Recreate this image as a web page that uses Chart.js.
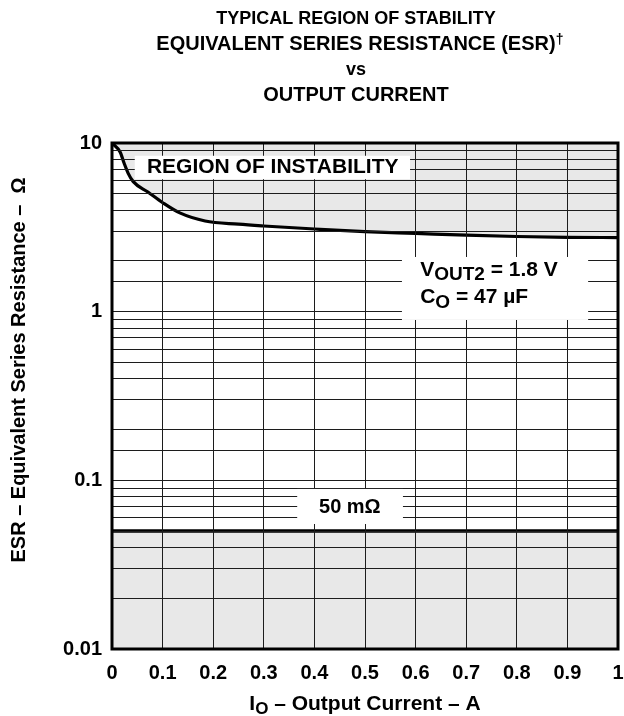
<!DOCTYPE html>
<html>
<head>
<meta charset="utf-8">
<script src="https://cdn.jsdelivr.net/npm/chart.js@4.4.1/dist/chart.umd.min.js"></script>
<style>
  html, body { margin: 0; padding: 0; background: #ffffff; }
  canvas { display: block; }
</style>
</head>
<body>
<canvas id="esr" width="624" height="716"></canvas>
<script>
// Output current (A) and the ESR boundary of the stable region (ohms)
const currentA = [0, 0.016, 0.024, 0.032, 0.042, 0.071, 0.101, 0.134, 0.184, 0.25, 0.30, 0.40, 0.50, 0.60, 0.70, 0.80, 0.90, 1.00];
const esrUpperOhm = [10, 8.84, 7.58, 6.61, 5.90, 5.12, 4.41, 3.85, 3.45, 3.30, 3.22, 3.09, 2.98, 2.91, 2.84, 2.79, 2.76, 2.75];

// Lower ESR limit, flat across the current range
const lowerLimitCurrentA = [0, 1];
const lowerLimitOhm = [0.05, 0.05];

// Labelled ticks
const xTickLabels = ['0', '0.1', '0.2', '0.3', '0.4', '0.5', '0.6', '0.7', '0.8', '0.9', '1'];
const yDecadeLabels = ['0.01', '0.1', '1', '10'];

const titleLines = [
  'TYPICAL REGION OF STABILITY',
  'EQUIVALENT SERIES RESISTANCE (ESR)',
  'vs',
  'OUTPUT CURRENT'
];

const FONT = '"Liberation Sans", Arial, Helvetica, sans-serif';
const SHADE = '#e8e8e8';
const INK = '#000000';
const GRID = '#1c1c1c';

function font(size) { return 'bold ' + size + 'px ' + FONT; }

// Draws a run of text pieces, some of them lowered as subscripts
function drawRuns(ctx, runs, x, y, align) {
  let total = 0;
  runs.forEach(r => { ctx.font = font(r.size); total += ctx.measureText(r.text).width; });
  let cx = align === 'center' ? x - total / 2 : x;
  ctx.textAlign = 'left';
  ctx.textBaseline = 'alphabetic';
  runs.forEach(r => {
    ctx.font = font(r.size);
    ctx.fillText(r.text, cx, y + (r.dy || 0));
    cx += ctx.measureText(r.text).width;
  });
}

const annotations = {
  id: 'annotations',
  afterDraw(chart) {
    const ctx = chart.ctx;
    const xs = chart.scales.x, ys = chart.scales.y;
    const area = chart.chartArea;
    const X = v => xs.getPixelForValue(v);
    const Y = v => ys.getPixelForValue(v);
    ctx.save();

    // white label boxes laid over the grid
    ctx.fillStyle = '#ffffff';
    const box = (x0, x1, y0, y1) => ctx.fillRect(X(x0), Y(y0), X(x1) - X(x0), Y(y1) - Y(y0));
    box(0.045, 0.589, 8.4, 6.1);
    box(0.573, 0.941, 2.11, 0.893);
    box(0.366, 0.575, 0.0889, 0.0551);

    ctx.fillStyle = INK;
    drawRuns(ctx, [{ text: 'REGION OF INSTABILITY', size: 21 }], X(0.069), Y(6.64), 'left');
    drawRuns(ctx, [
      { text: 'V', size: 21 },
      { text: 'OUT2', size: 19, dy: 4 },
      { text: ' = 1.8 V', size: 21 }
    ], X(0.609), Y(1.627), 'left');
    drawRuns(ctx, [
      { text: 'C', size: 21 },
      { text: 'O', size: 19, dy: 5 },
      { text: ' = 47 \u00B5F', size: 21 }
    ], X(0.609), Y(1.126), 'left');
    drawRuns(ctx, [{ text: (lowerLimitOhm[0] * 1000) + ' m\u03A9', size: 20 }], X(0.47), Y(0.0641), 'center');

    // plot frame
    ctx.strokeStyle = INK;
    ctx.lineWidth = 3;
    ctx.strokeRect(area.left, area.top, area.right - area.left, area.bottom - area.top);

    // chart title, centred a little left of the plot middle
    const cx = (area.left + area.right) / 2;
    const tx = cx - 9;
    drawRuns(ctx, [{ text: titleLines[0], size: 18 }], tx, 24, 'center');
    ctx.font = font(14);
    const wd = ctx.measureText('\u2020').width;
    drawRuns(ctx, [
      { text: titleLines[1], size: 20 },
      { text: '\u2020', size: 14, dy: -6 }
    ], tx + wd / 2, 50, 'center');
    drawRuns(ctx, [{ text: titleLines[2], size: 18 }], tx, 75, 'center');
    drawRuns(ctx, [{ text: titleLines[3], size: 20 }], tx, 101, 'center');

    // axis titles
    drawRuns(ctx, [
      { text: 'I', size: 21 },
      { text: 'O', size: 17, dy: 4 },
      { text: ' \u2013 Output Current \u2013 A', size: 21 }
    ], cx, 710, 'center');

    ctx.translate(25, 370);
    ctx.rotate(-Math.PI / 2);
    drawRuns(ctx, [{ text: 'ESR \u2013 Equivalent Series Resistance \u2013  \u03A9', size: 20 }], 0, 0, 'center');
    ctx.restore();
  }
};

const isDecade = v => Math.abs(Math.log10(v) - Math.round(Math.log10(v))) < 1e-6;

new Chart(document.getElementById('esr'), {
  type: 'line',
  data: {
    datasets: [
      {
        label: 'ESR upper limit',
        data: currentA.map((x, i) => ({ x, y: esrUpperOhm[i] })),
        borderColor: INK,
        borderWidth: 3.2,
        pointRadius: 0,
        cubicInterpolationMode: 'monotone',
        fill: 'end',
        backgroundColor: SHADE
      },
      {
        label: 'ESR lower limit',
        data: lowerLimitCurrentA.map((x, i) => ({ x, y: lowerLimitOhm[i] })),
        borderColor: INK,
        borderWidth: 3.5,
        pointRadius: 0,
        fill: 'start',
        backgroundColor: SHADE
      }
    ]
  },
  options: {
    responsive: false,
    animation: false,
    events: [],
    layout: { padding: { top: 143, right: 6, left: 0, bottom: 0 } },
    plugins: {
      legend: { display: false },
      tooltip: { enabled: false },
      title: { display: false }
    },
    scales: {
      x: {
        type: 'linear',
        min: 0,
        max: 1,
        afterFit: s => { s.height = 67; s.paddingLeft = 0; s.paddingRight = 0; },
        border: { display: false },
        grid: { color: GRID, lineWidth: 1, drawTicks: false, z: 1 },
        ticks: {
          stepSize: 0.1,
          padding: 12,
          color: INK,
          font: { family: FONT, size: 20, weight: 'bold' },
          maxRotation: 0,
          autoSkip: false,
          callback: v => xTickLabels[Math.round(v * 10)]
        }
      },
      y: {
        type: 'logarithmic',
        min: 0.01,
        max: 10,
        afterFit: s => { s.width = 112; s.paddingTop = 0; s.paddingBottom = 0; },
        border: { display: false },
        grid: { color: GRID, lineWidth: 1, drawTicks: false, z: 1 },
        ticks: {
          padding: 10,
          color: INK,
          autoSkip: false,
          font: { family: FONT, size: 20, weight: 'bold' },
          callback: v => isDecade(v) ? yDecadeLabels[Math.round(Math.log10(v)) + 2] : ''
        }
      }
    }
  },
  plugins: [annotations]
});
</script>
</body>
</html>
